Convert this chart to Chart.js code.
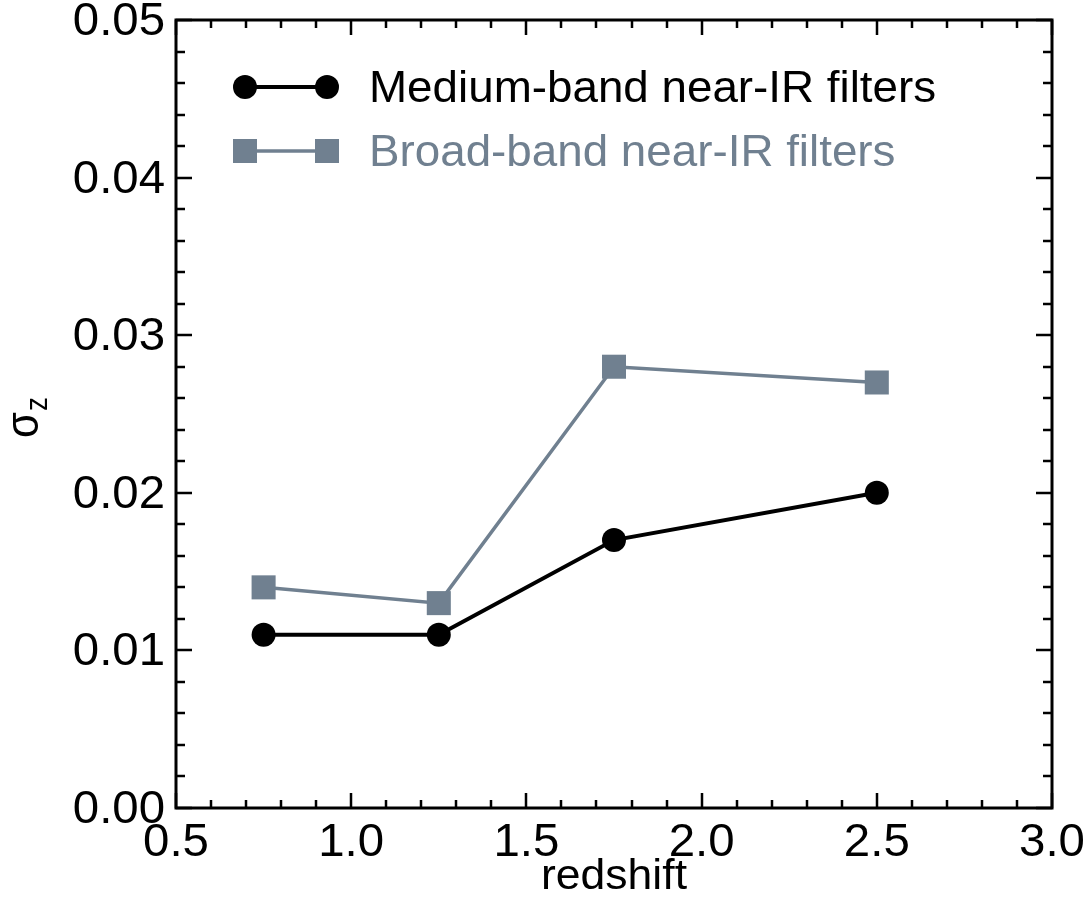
<!DOCTYPE html>
<html lang="en">
<head>
    <meta charset="UTF-8" />
    <title>Photo-z scatter vs redshift</title>
    <script src="https://cdn.jsdelivr.net/npm/chart.js"></script>
    <style>
        html, body { margin: 0; padding: 0; background: #fff; }
        canvas { display: block; }
    </style>
</head>
<body>
    <canvas id="sigmaChart" width="1089" height="902"></canvas>

    <script>
        // data
        var redshift = [0.75, 1.25, 1.75, 2.5];
        var mediumBand = [0.011, 0.011, 0.017, 0.020];
        var broadBand = [0.014, 0.013, 0.028, 0.027];
        var seriesNames = ['Medium-band near-IR filters', 'Broad-band near-IR filters'];
        var xTickLabels = ['0.5', '1.0', '1.5', '2.0', '2.5', '3.0'];
        var yTickLabels = ['0.00', '0.01', '0.02', '0.03', '0.04', '0.05'];
    </script>

    <script>
        var FONT = '"Liberation Sans", Arial, Helvetica, sans-serif';
        var GREY = '#708090';

        function toPoints(xs, ys) {
            var pts = [];
            for (var i = 0; i < xs.length; i++) pts.push({ x: xs[i], y: ys[i] });
            return pts;
        }

        // text is a touch wider than tall in the original, so stretch it a little
        function wideText(ctx, txt, x, y, size, color, align, sx) {
            ctx.save();
            ctx.translate(x, y);
            ctx.scale(sx, 1);
            ctx.font = size + 'px ' + FONT;
            ctx.fillStyle = color;
            ctx.textAlign = align;
            ctx.textBaseline = 'alphabetic';
            ctx.fillText(txt, 0, 0);
            ctx.restore();
        }

        function isMajor(v, labels) {
            for (var i = 0; i < labels.length; i++) {
                if (Math.abs(Number(labels[i]) - v) < 1e-9) return true;
            }
            return false;
        }

        // box, inward ticks on all four sides, tick labels, axis titles
        var frameAxes = {
            id: 'frameAxes',
            afterDatasetsDraw: function (chart) {
                var ctx = chart.ctx;
                var a = chart.chartArea;
                var xs = chart.scales.x, ys = chart.scales.y;
                ctx.save();
                ctx.strokeStyle = '#000';
                ctx.lineCap = 'butt';

                ctx.lineWidth = 2.5;
                xs.ticks.forEach(function (t) {
                    var px = Math.round(xs.getPixelForValue(t.value));
                    var len = isMajor(t.value, xTickLabels) ? 15 : 8;
                    ctx.beginPath();
                    ctx.moveTo(px, a.bottom); ctx.lineTo(px, a.bottom - len);
                    ctx.moveTo(px, a.top); ctx.lineTo(px, a.top + len);
                    ctx.stroke();
                });
                ys.ticks.forEach(function (t) {
                    var py = Math.round(ys.getPixelForValue(t.value));
                    var len = isMajor(t.value, yTickLabels) ? 16 : 9;
                    ctx.beginPath();
                    ctx.moveTo(a.left, py); ctx.lineTo(a.left + len, py);
                    ctx.moveTo(a.right, py); ctx.lineTo(a.right - len, py);
                    ctx.stroke();
                });

                ctx.lineWidth = 3;
                ctx.lineJoin = 'miter';
                ctx.strokeRect(a.left, a.top, a.right - a.left, a.bottom - a.top);
                ctx.restore();

                // tick labels
                xTickLabels.forEach(function (lab) {
                    var px = xs.getPixelForValue(Number(lab));
                    wideText(ctx, lab, px, a.bottom + 48, 46, '#000', 'center', 1.03);
                });
                yTickLabels.forEach(function (lab) {
                    var py = ys.getPixelForValue(Number(lab));
                    wideText(ctx, lab, a.left - 11, py + 15, 46, '#000', 'right', 1.03);
                });

                // x title
                wideText(ctx, 'redshift', (a.left + a.right) / 2, 889, 42, '#000', 'center', 1.06);

                // y title: sigma with subscript z, rotated
                ctx.save();
                ctx.translate(38, 438);
                ctx.scale(1.1, 1);
                ctx.rotate(-Math.PI / 2);
                ctx.fillStyle = '#000';
                ctx.textAlign = 'left';
                ctx.textBaseline = 'alphabetic';
                ctx.font = '42px ' + FONT;
                ctx.fillText('\u03c3', 0, 0);
                var w = ctx.measureText('\u03c3').width;
                ctx.font = '28px ' + FONT;
                ctx.fillText('z', w + 1, 8);
                ctx.restore();
            }
        };

        // legend inside the box, upper left
        var boxLegend = {
            id: 'boxLegend',
            afterDraw: function (chart) {
                var ctx = chart.ctx;
                var a = chart.chartArea;
                var x1 = a.left + 69, x2 = a.left + 151;
                var rows = [a.top + 67, a.top + 131];
                chart.data.datasets.forEach(function (ds, i) {
                    var y = rows[i];
                    ctx.save();
                    ctx.strokeStyle = ds.borderColor;
                    ctx.fillStyle = ds.backgroundColor;
                    ctx.lineWidth = ds.borderWidth;
                    ctx.beginPath();
                    ctx.moveTo(x1, y); ctx.lineTo(x2, y);
                    ctx.stroke();
                    [x1, x2].forEach(function (mx) {
                        if (ds.pointStyle === 'rect') {
                            ctx.fillRect(mx - 12, y - 12, 24, 24);
                        } else {
                            ctx.beginPath();
                            ctx.arc(mx, y, 12, 0, Math.PI * 2);
                            ctx.fill();
                        }
                    });
                    ctx.restore();
                    wideText(ctx, ds.label, a.left + 193, y + 15, 44, ds.borderColor, 'left', 1.04);
                });
            }
        };

        var ctx = document.getElementById('sigmaChart').getContext('2d');

        var chartData = {
            datasets: [{
                label: seriesNames[0],
                data: toPoints(redshift, mediumBand),
                borderColor: '#000000',
                backgroundColor: '#000000',
                borderWidth: 4,
                pointStyle: 'circle',
                pointRadius: 12,
                pointBorderWidth: 0,
                showLine: true,
                tension: 0
            }, {
                label: seriesNames[1],
                data: toPoints(redshift, broadBand),
                borderColor: GREY,
                backgroundColor: GREY,
                borderWidth: 3.5,
                pointStyle: 'rect',
                pointRadius: 17,
                pointBorderWidth: 0,
                showLine: true,
                tension: 0
            }]
        };

        var options = {
            responsive: false,
            devicePixelRatio: 1,
            animation: false,
            layout: { padding: { top: 20, right: 37, left: 0, bottom: 0 } },
            plugins: {
                legend: { display: false },
                tooltip: { enabled: false }
            },
            scales: {
                x: {
                    type: 'linear',
                    min: 0.5,
                    max: 3.0,
                    ticks: { display: false, stepSize: 0.1 },
                    grid: { display: false },
                    border: { display: false },
                    afterFit: function (s) { s.height = 94; }
                },
                y: {
                    type: 'linear',
                    min: 0,
                    max: 0.05,
                    ticks: { display: false, stepSize: 0.002 },
                    grid: { display: false },
                    border: { display: false },
                    afterFit: function (s) { s.width = 176; }
                }
            }
        };

        var sigmaChart = new Chart(ctx, {
            type: 'scatter',
            data: chartData,
            options: options,
            plugins: [frameAxes, boxLegend]
        });
    </script>
</body>
</html>
